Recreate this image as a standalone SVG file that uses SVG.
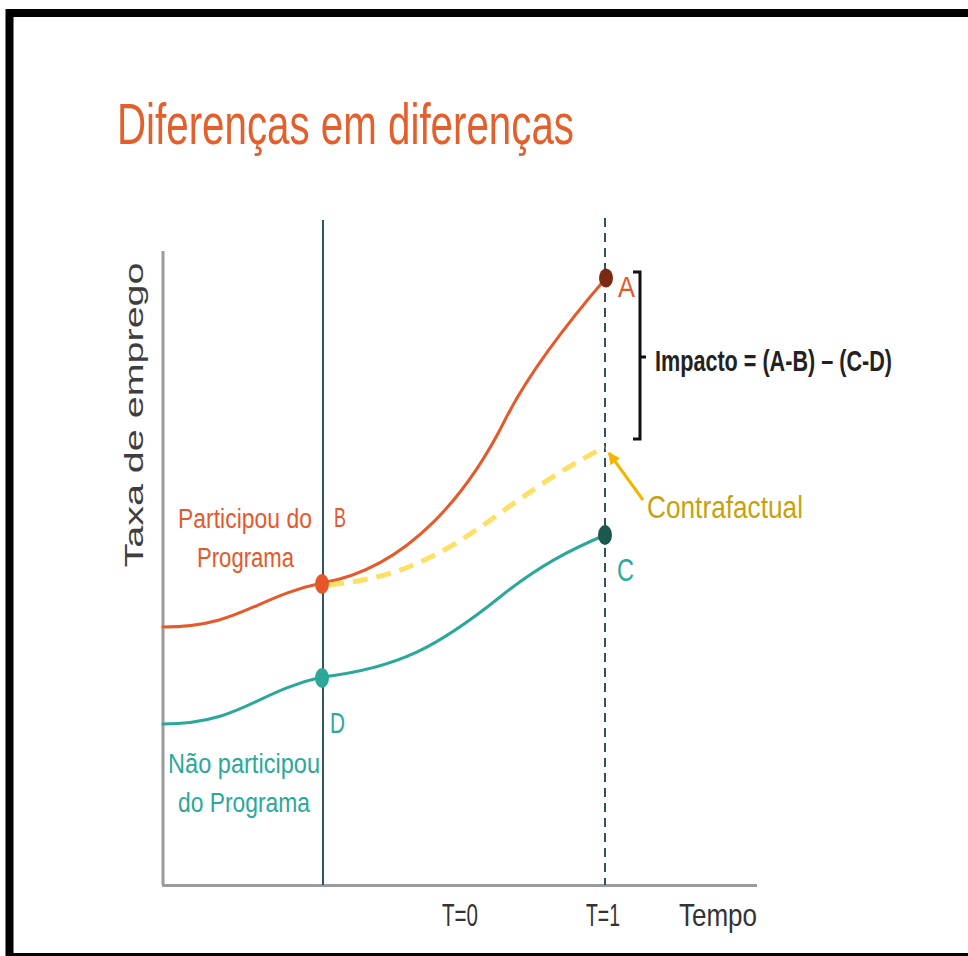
<svg xmlns="http://www.w3.org/2000/svg" width="968" height="956" viewBox="0 0 968 956">
  <defs>
    <style>
      .lbl { font-family: "Liberation Sans", "DejaVu Sans", sans-serif; }
      .orange { fill: #E4592C; }
      .teal { fill: #2BA89A; }
      .axis { stroke: #9B9B9B; stroke-width: 3; fill: none; }
      .curve { fill: none; stroke-width: 3; stroke-linecap: round; }
    </style>
    <marker id="arrowhead" viewBox="0 0 10 10" refX="9" refY="5" markerWidth="4" markerHeight="4" orient="auto" markerUnits="strokeWidth">
      <path d="M0,0 L10,5 L0,10 z" fill="#F2B600"/>
    </marker>
  </defs>

  <rect x="0" y="0" width="968" height="956" fill="#ffffff"/>

  <g id="frame">
    <rect x="9.5" y="13" width="980" height="944" fill="none" stroke="#000000" stroke-width="8"/>
  </g>

  <g id="title">
    <text class="lbl" x="117" y="144" font-size="58" fill="#E35F2C" textLength="457" lengthAdjust="spacingAndGlyphs">Diferenças em diferenças</text>
  </g>

  <g id="axes">
    <line class="axis" x1="163" y1="251" x2="163" y2="885"/>
    <line class="axis" x1="162" y1="885.5" x2="757" y2="885.5"/>
    <text class="lbl" transform="translate(143,415) rotate(-90)" text-anchor="middle" font-size="25" fill="#3E3E3E" textLength="305" lengthAdjust="spacingAndGlyphs">Taxa de emprego</text>
    <text class="lbl" x="442" y="926" font-size="32" fill="#333333" textLength="36" lengthAdjust="spacingAndGlyphs">T=0</text>
    <text class="lbl" x="586" y="926" font-size="32" fill="#333333" textLength="34" lengthAdjust="spacingAndGlyphs">T=1</text>
    <text class="lbl" x="679" y="926" font-size="32" fill="#333333" textLength="78" lengthAdjust="spacingAndGlyphs">Tempo</text>
  </g>

  <g id="time-markers">
    <line x1="323" y1="220" x2="323" y2="885" stroke="#34545E" stroke-width="2"/>
    <line x1="605" y1="218" x2="605" y2="885" stroke="#34505B" stroke-width="2" stroke-dasharray="9,6"/>
  </g>

  <g id="connectors">
    <path id="curve-participou" class="curve" stroke="#E5592B" d="M163,627 C240,627 255,597 322,583 C410,568 470,490 505,420 C530,370 570,320 606,278"/>
    <path id="curve-nao-participou" class="curve" stroke="#2BA89A" d="M163,724 C240,724 255,692 322,677 C400,668 440,645 500,597 C540,565 570,550 605,535"/>
    <path id="curve-contrafactual" fill="none" stroke="#FFE066" stroke-width="5" stroke-dasharray="15,9" d="M329,585 C390,578 430,565 500,513 C530,492 560,470 605,447"/>
    <line id="arrow-contrafactual" x1="643" y1="500" x2="609" y2="453" stroke="#F2B600" stroke-width="3" marker-end="url(#arrowhead)"/>
    <path id="bracket" fill="none" stroke="#111111" stroke-width="3" d="M633,272 H640 V439 H633 M640,357 H646"/>
  </g>

  <g id="point-A">
    <ellipse cx="606" cy="278" rx="7" ry="9.5" fill="#7A2A12"/>
    <text class="lbl orange" x="618" y="297" font-size="30" textLength="17" lengthAdjust="spacingAndGlyphs">A</text>
  </g>

  <g id="point-B">
    <ellipse cx="322" cy="584" rx="7" ry="10" fill="#E4572A"/>
    <text class="lbl orange" x="334" y="527" font-size="28" textLength="12" lengthAdjust="spacingAndGlyphs">B</text>
  </g>

  <g id="point-C">
    <ellipse cx="605" cy="535" rx="7" ry="10" fill="#1C5850"/>
    <text class="lbl teal" x="617" y="581" font-size="31" textLength="17" lengthAdjust="spacingAndGlyphs">C</text>
  </g>

  <g id="point-D">
    <ellipse cx="322" cy="678" rx="7" ry="10" fill="#2BA89A"/>
    <text class="lbl teal" x="330" y="733" font-size="29" textLength="15" lengthAdjust="spacingAndGlyphs">D</text>
  </g>

  <g id="label-participou">
    <text class="lbl orange" transform="translate(178,528) scale(0.85,1)" font-size="27">Participou do</text>
    <text class="lbl orange" x="197" y="567" font-size="27" textLength="97" lengthAdjust="spacingAndGlyphs">Programa</text>
  </g>

  <g id="label-nao-participou">
    <text class="lbl teal" x="168" y="773" font-size="27" textLength="152" lengthAdjust="spacingAndGlyphs">Não participou</text>
    <text class="lbl teal" x="178" y="812" font-size="27" textLength="132" lengthAdjust="spacingAndGlyphs">do Programa</text>
  </g>

  <g id="label-contrafactual">
    <text class="lbl" x="647" y="518" font-size="31" fill="#C9A10C" textLength="156" lengthAdjust="spacingAndGlyphs">Contrafactual</text>
  </g>

  <g id="label-impacto">
    <text class="lbl" transform="translate(655,371) scale(0.745,1)" font-size="29" font-weight="bold" fill="#222222">Impacto = (A-B) – (C-D)</text>
  </g>
</svg>
